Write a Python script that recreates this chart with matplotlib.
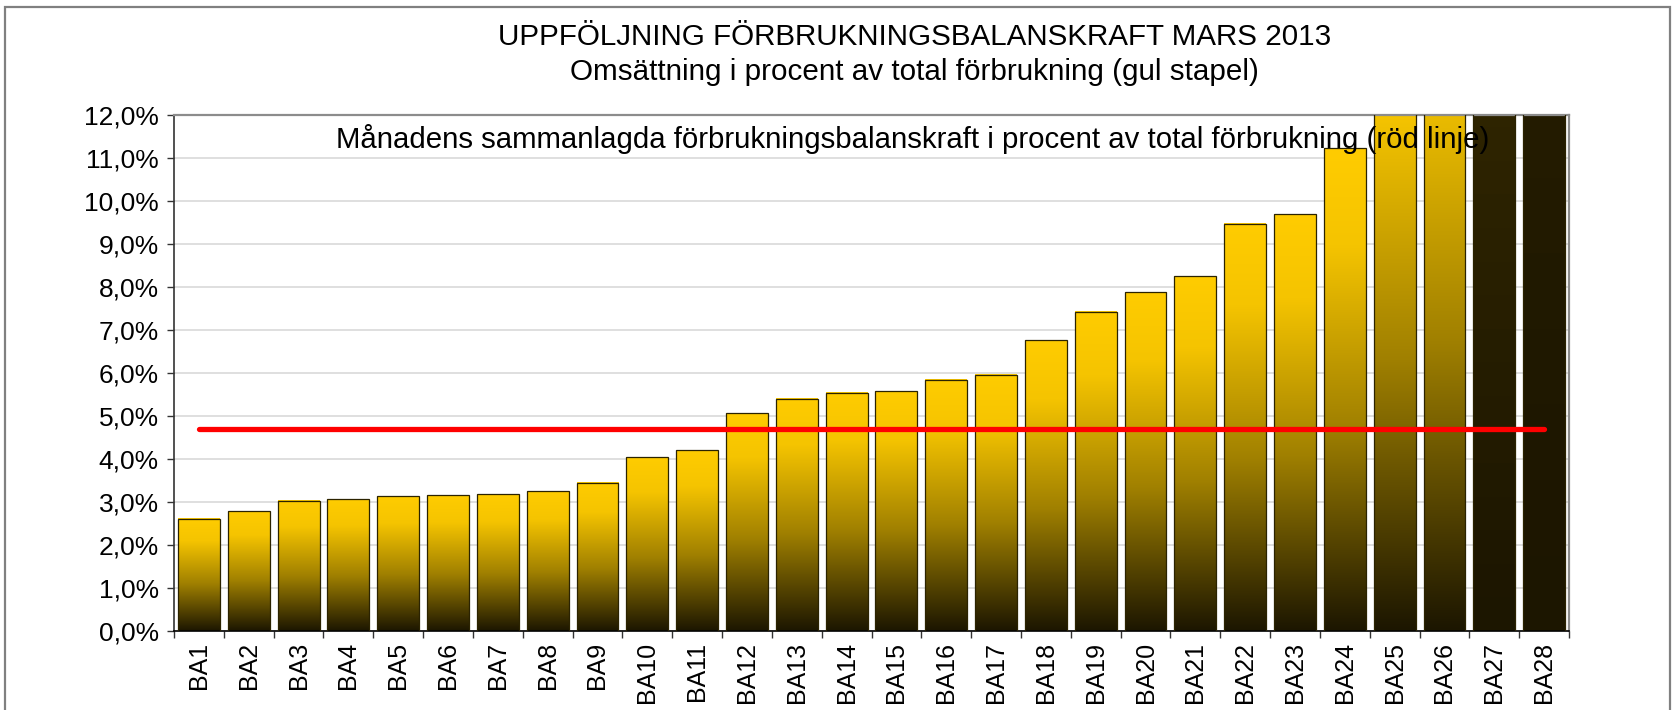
import matplotlib
matplotlib.use("Agg")
import matplotlib.pyplot as plt
import numpy as np
from matplotlib.colors import LinearSegmentedColormap
from matplotlib.patches import Rectangle
from matplotlib.ticker import FuncFormatter

# data (percent of total consumption)
labels = ["BA1", "BA2", "BA3", "BA4", "BA5", "BA6", "BA7", "BA8", "BA9", "BA10",
          "BA11", "BA12", "BA13", "BA14", "BA15", "BA16", "BA17", "BA18", "BA19", "BA20",
          "BA21", "BA22", "BA23", "BA24", "BA25", "BA26", "BA27", "BA28"]
turnover_pct = [2.61, 2.78, 3.03, 3.06, 3.13, 3.16, 3.18, 3.25, 3.45, 4.04,
                4.20, 5.07, 5.40, 5.54, 5.57, 5.84, 5.96, 6.76, 7.43, 7.88,
                8.25, 9.47, 9.69, 11.23, 15.0, 16.0, 200.0, 450.0]
month_total_pct = 4.7

title1 = "UPPFÖLJNING FÖRBRUKNINGSBALANSKRAFT MARS 2013"
title2 = "Omsättning i procent av total förbrukning (gul stapel)"
inner_text = "Månadens sammanlagda förbrukningsbalanskraft i procent av total förbrukning (röd linje)"

plt.rcParams['font.family'] = ['Liberation Sans', 'DejaVu Sans']

fig = plt.figure(figsize=(16.75, 7.1), dpi=100)
ax = fig.add_axes([0.1039, 0.1113, 0.8328, 0.7267])

# gold -> almost black, spread over each bar's own height
gold = LinearSegmentedColormap.from_list(
    "gold", [(0.0, "#1c1600"), (0.42, "#a08000"), (0.8, "#f5c400"), (1.0, "#ffcc00")])
grad = np.linspace(0, 1, 256).reshape(-1, 1)

x = np.arange(len(labels))
bars = ax.bar(x, turnover_pct, width=0.84, color="none", edgecolor="#2b2300",
              linewidth=0.9, zorder=3)
for b in bars:
    im = ax.imshow(grad, cmap=gold, origin="lower", aspect="auto", zorder=2,
                   extent=[b.get_x(), b.get_x() + b.get_width(), 0, b.get_height()])
    im.set_clip_path(b)
    im.set_clip_box(ax.bbox)

# red line for the month's total
ax.plot([x[0], x[-1]], [month_total_pct, month_total_pct], color="#ff0000",
        linewidth=3.8, solid_capstyle="round", zorder=4)

ax.set_xlim(-0.5, len(labels) - 0.5)
ax.set_ylim(0, 12)
ax.set_yticks(np.arange(0, 13, 1))
ax.yaxis.set_major_formatter(FuncFormatter(lambda v, p: f"{v:.1f}%".replace(".", ",")))
ax.tick_params(axis="y", labelsize=19, length=5, width=1, pad=6, color="#333333")

ax.set_xticks(x)
ax.set_xticklabels(labels, rotation=90)
ax.set_xticks(np.arange(-0.5, len(labels), 1), minor=True)
ax.tick_params(axis="x", which="major", labelsize=18, length=0, pad=8)
ax.tick_params(axis="x", which="minor", length=5, width=1, color="#333333")

ax.yaxis.grid(True, color="#d9d9d9", linewidth=1.2)
ax.set_axisbelow(True)

for side in ["top", "right"]:
    ax.spines[side].set_color("#8c8c8c")
    ax.spines[side].set_linewidth(1.6)
ax.spines["left"].set_color("#333333")
ax.spines["left"].set_linewidth(1.2)
ax.spines["bottom"].set_color("#000000")
ax.spines["bottom"].set_linewidth(1.2)

# outer chart frame
frame = Rectangle((5 / 1675, -0.1), 1665 / 1675, 1 - 7 / 710 + 0.1,
                  transform=fig.transFigure, fill=False, edgecolor="#808080", linewidth=1.6)
fig.add_artist(frame)

fig.text(0.546, 0.948, title1, ha="center", va="center", fontsize=21.3)
fig.text(0.546, 0.899, title2, ha="center", va="center", fontsize=21.3)
fig.text(0.545, 0.804, inner_text, ha="center", va="center", fontsize=21.2, zorder=10)

fig.savefig("out.png", dpi=100)
